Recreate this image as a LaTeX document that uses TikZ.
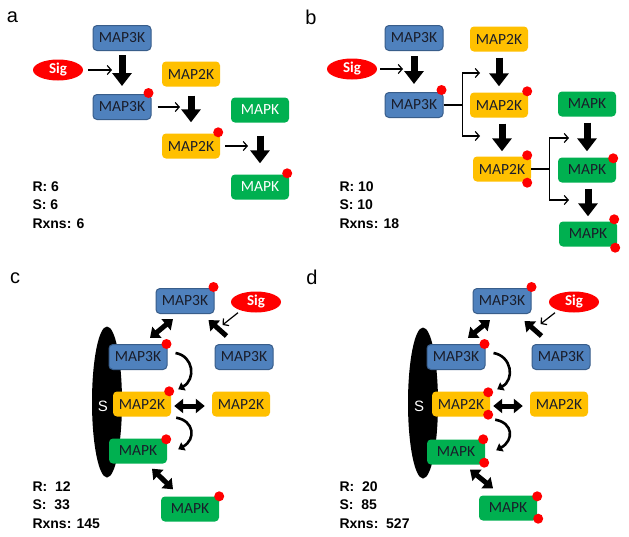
\documentclass[tikz,border=0pt]{standalone}
\usepackage{fontspec}
\setmainfont{Liberation Sans}
\newfontfamily\boxfont{Carlito}
\usetikzlibrary{arrows.meta,shapes.geometric,calc}

\definecolor{kblue}{HTML}{4F81BD}
\definecolor{kblueline}{HTML}{385D8A}
\definecolor{korange}{HTML}{FFC000}
\definecolor{kgreen}{HTML}{00B050}
\definecolor{ktext}{HTML}{1A1D2A}

\begin{document}
\begin{tikzpicture}[x=1pt,y=-1pt,
	kin/.style={rounded corners=4pt,minimum width=58pt,minimum height=25pt,inner sep=0pt,
		font=\boxfont\fontsize{15.5}{15.5}\selectfont,text=ktext},
	m3/.style={kin,fill=kblue,draw=kblueline,line width=1pt},
	m2/.style={kin,fill=korange},
	mk/.style={kin,fill=kgreen},
	sig/.style={ellipse,fill=red,minimum width=50pt,minimum height=21pt,inner sep=0pt,
		text=white,font=\boxfont\bfseries\fontsize{15}{15}\selectfont},
	pdot/.style={circle,fill=red,minimum size=10pt,inner sep=0pt},
	scaffold/.style={ellipse,fill=black,minimum width=30pt,minimum height=151pt,inner sep=0pt},
	stext/.style={text=white,font=\fontsize{15}{15}\selectfont},
	thinarr/.style={line width=1.2pt,-{Straight Barb[length=4pt,width=9pt]}},
	bigarr/.style={line width=7pt,-{Triangle[length=13pt,width=19pt]}},
	midarr/.style={line width=5pt,-{Triangle[length=9pt,width=14pt]}},
	dblarr/.style={line width=5pt,{Triangle[length=9pt,width=14pt]}-{Triangle[length=9pt,width=14pt]}},
	bendarr/.style={line width=2.6pt,-{Triangle[length=6pt,width=9pt]}},
	stat/.style={anchor=west,align=left,font=\bfseries\fontsize{14}{18.5}\selectfont},
	panel/.style={font=\fontsize{20}{20}\selectfont}]
	\fill[white] (0,0) rectangle (629,536);
	\useasboundingbox (0,0) rectangle (629,536);

	% a: single chain
	\node[panel] (la) at (12.5,17) {a};
	\node[m3] (a3) at (122,38) {MAP3K};
	\node[sig] (asig) at (58,70) {Sig};
	\node[m3] (a3p) at (122,107) {MAP3K};
	\node[m2] (a2) at (191,74) {MAP2K};
	\node[m2] (a2p) at (191,146) {MAP2K};
	\node[mk,text=white] (ak) at (260,110) {MAPK};
	\node[mk,text=white] (akp) at (260,187) {MAPK};
	\node[pdot] (a3pd) at ($(a3p.north east)+(-3,-1)$) {};
	\node[pdot] (a2pd) at ($(a2p.north east)+(-2,-1)$) {};
	\node[pdot] (akpd) at ($(akp.north east)+(-2,-1)$) {};
	\draw[thinarr] ($(asig.east)+(5,0)$) -- ($(asig.east -| a3.center)+(-10,0)$);
	\draw[bigarr] ($(a3.south)+(0,4)$) -- ($(a3p.north)+(0,-8)$);
	\draw[thinarr] ($(a3p.east)+(6,0)$) -- ($(a3p.east -| a2.center)+(-11,0)$);
	\draw[bigarr] ($(a2.south)+(0,9)$) -- ($(a2p.north)+(0,-11)$);
	\draw[thinarr] ($(a2p.east)+(5,0)$) -- ($(a2p.east -| ak.center)+(-12,0)$);
	\draw[bigarr] ($(ak.south)+(0,13)$) -- ($(akp.north)+(0,-11)$);
	\node[stat] (sa) at (29,205) {R: 6\\S: 6\\Rxns: 6};

	% b: branched chain
	\node[panel] (lb) at (311,17) {b};
	\node[m3] (b3) at (414,38) {MAP3K};
	\node[sig] (bsig) at (352,69) {Sig};
	\node[m3] (b3p) at (414,105) {MAP3K};
	\node[m2] (b2) at (499,39) {MAP2K};
	\node[m2] (b2p) at (499,105) {MAP2K};
	\node[m2] (b2pp) at (502,169) {MAP2K};
	\node[mk] (bk) at (587,104) {MAPK};
	\node[mk] (bkp) at (587,170) {MAPK};
	\node[mk] (bkpp) at (588,234) {MAPK};
	\node[pdot] (b3pd) at ($(b3p.north east)+(-2,-2)$) {};
	\node[pdot] (b2pd) at ($(b2p.north east)+(-1,-1)$) {};
	\node[pdot] (b2ppd1) at ($(b2pp.north east)+(-4,-1)$) {};
	\node[pdot] (b2ppd2) at ($(b2pp.south east)+(-4,1)$) {};
	\node[pdot] (bkpd) at ($(bkp.north east)+(-3,1)$) {};
	\node[pdot] (bkppd1) at ($(bkpp.north east)+(-3,-2)$) {};
	\node[pdot] (bkppd2) at ($(bkpp.south east)+(-2,1)$) {};
	\draw[thinarr] ($(bsig.east)+(3,0)$) -- ($(bsig.east -| b3.center)+(-11,0)$);
	\draw[bigarr] ($(b3.south)+(0,5)$) -- ($(b3p.north)+(0,-8)$);
	\draw[bigarr] ($(b2.south)+(0,6)$) -- ($(b2p.north)+(0,-6)$);
	\draw[bigarr] ($(b2p.south -| b2pp.center)+(0,6)$) -- ($(b2pp.north)+(0,-5)$);
	\draw[bigarr] ($(bk.south)+(0,6)$) -- ($(bkp.north)+(0,-6)$);
	\draw[bigarr] ($(bkp.south -| bkpp.center)+(0,6)$) -- ($(bkpp.north)+(0,-5)$);
	\coordinate (bj1) at ($(b3p.east)+(19,0)$);
	\coordinate (bt1) at (480,73);
	\coordinate (bt2) at (480,136);
	\draw[line width=1.5pt] (b3p.east) -- (bj1);
	\draw[thinarr] (bj1) |- (bt1);
	\draw[thinarr] (bj1) |- (bt2);
	\coordinate (bj2) at ($(b2pp.east)+(18,0)$);
	\coordinate (bt3) at (569,138);
	\coordinate (bt4) at (569,200);
	\draw[line width=1.5pt] (b2pp.east) -- (bj2);
	\draw[thinarr] (bj2) |- (bt3);
	\draw[thinarr] (bj2) |- (bt4);
	\node[stat] (sb) at (336,205) {R: 10\\S: 10\\Rxns: 18};

	% c: scaffold, single sites
	\node[panel] (lc) at (15,278) {c};
	\node[scaffold] (cs) at (107,402) {};
	\node[stext] (csl) at (103,406) {S};
	\node[m3] (c3t) at (185,301) {MAP3K};
	\node[sig] (csig) at (256,302) {Sig};
	\node[m3] (c3r) at (244,357) {MAP3K};
	\node[m3] (c3l) at (138,357) {MAP3K};
	\node[m2] (c2l) at (142,404) {MAP2K};
	\node[m2] (c2r) at (241,404) {MAP2K};
	\node[mk] (ckl) at (138,451) {MAPK};
	\node[mk] (ckb) at (190,509) {MAPK};
	\node[pdot] (c3td) at ($(c3t.north east)+(-1,-1)$) {};
	\node[pdot] (c3ld) at ($(c3l.north east)+(-1,0)$) {};
	\node[pdot] (c2ld) at ($(c2l.north east)+(-2,0)$) {};
	\node[pdot] (ckld) at ($(ckl.north east)+(-1,1)$) {};
	\node[pdot] (ckbd) at ($(ckb.north east)+(0,0)$) {};
	\draw[thinarr] ($(csig.south)+(-18,0)$) -- ($(c3r.north west)+(8,-19)$);
	\draw[midarr] ($(c3r.north west)+(12,-8)$) -- ($(c3t.south east)+(-6,6)$);
	\draw[dblarr] ($(c3t.south)+(-12,5)$) -- ($(c3l.north)+(12,-6)$);
	\draw[dblarr] ($(c2l.east)+(3,2)$) -- ($(c2r.west)+(-7,2)$);
	\draw[dblarr] ($(ckl.south)+(14,5)$) -- ($(ckb.north)+(-17,-7)$);
	\draw[bendarr] ($(c3l.east)+(8,-4)$) .. controls +(18,3) and +(18,-10) .. ($(c2l.north east)+(7,-2)$);
	\draw[bendarr] ($(c2l.south east)+(5,1)$) .. controls +(18,3) and +(18,-10) .. ($(ckl.north east)+(11,11)$);
	\node[stat] (sc) at (29,505) {R:\ \ 12\\S:\ \ 33\\Rxns: 145};

	% d: scaffold, double sites
	\node[panel] (ld) at (312,277) {d};
	\node[scaffold] (ds) at (423,403) {};
	\node[stext] (dsl) at (419,406) {S};
	\node[m3] (d3t) at (502,301) {MAP3K};
	\node[sig] (dsig) at (574,302) {Sig};
	\node[m3] (d3r) at (561,357) {MAP3K};
	\node[m3] (d3l) at (456,357) {MAP3K};
	\node[m2] (d2l) at (461,404) {MAP2K};
	\node[m2] (d2r) at (559,404) {MAP2K};
	\node[mk] (dkl) at (456,452) {MAPK};
	\node[mk] (dkb) at (508,508) {MAPK};
	\node[pdot] (d3td) at ($(d3t.north east)+(0,-1)$) {};
	\node[pdot] (d3ld) at ($(d3l.north east)+(-1,0)$) {};
	\node[pdot] (d2ld1) at ($(d2l.north east)+(-2,1)$) {};
	\node[pdot] (d2ld2) at ($(d2l.south east)+(-2,-2)$) {};
	\node[pdot] (dkld1) at ($(dkl.north east)+(-2,0)$) {};
	\node[pdot] (dkld2) at ($(dkl.south east)+(-1,-2)$) {};
	\node[pdot] (dkbd1) at ($(dkb.north east)+(0,1)$) {};
	\node[pdot] (dkbd2) at ($(dkb.south east)+(1,-2)$) {};
	\draw[thinarr] ($(dsig.south)+(-19,0)$) -- ($(d3r.north west)+(9,-20)$);
	\draw[midarr] ($(d3r.north west)+(10,-8)$) -- ($(d3t.south east)+(-7,7)$);
	\draw[dblarr] ($(d3t.south)+(-12,6)$) -- ($(d3l.north)+(12,-6)$);
	\draw[dblarr] ($(d2l.east)+(3,2)$) -- ($(d2r.west)+(-7,2)$);
	\draw[dblarr] ($(dkl.south)+(14,5)$) -- ($(dkb.north)+(-15,-7)$);
	\draw[bendarr] ($(d3l.east)+(8,-4)$) .. controls +(18,3) and +(18,-10) .. ($(d2l.north east)+(7,-2)$);
	\draw[bendarr] ($(d2l.south east)+(5,3)$) .. controls +(18,3) and +(18,-10) .. ($(dkl.north east)+(11,11)$);
	\node[stat] (sd) at (336,505) {R:\ \ 20\\S:\ \ 85\\Rxns:\ \ 527};
\end{tikzpicture}
\end{document}
